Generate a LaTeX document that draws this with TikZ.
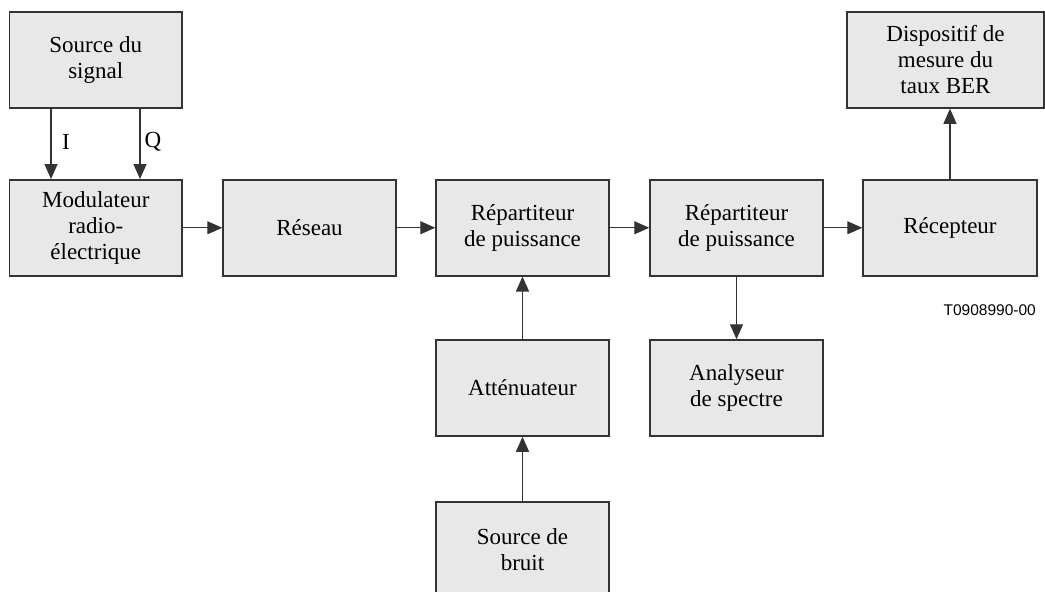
\documentclass[tikz,border=0pt]{standalone}
\usepackage{fontspec}
\setmainfont{Liberation Serif}
\newfontfamily\labelsans{Liberation Sans}
\usetikzlibrary{arrows.meta,calc}
\definecolor{boxfill}{HTML}{E8E8E8}
\definecolor{linecol}{HTML}{333333}
\begin{document}
\begin{tikzpicture}[x=1pt,y=-1pt,
  blk/.style={draw=linecol,line width=1.5pt,fill=boxfill,rectangle,inner sep=0pt,
    minimum height=96pt,align=center,
    font=\fontsize{23}{26}\selectfont},
  arr/.style={draw=linecol,line width=1.3pt,-{Triangle[length=15pt,width=13pt]}},
  lbl/.style={font=\fontsize{23}{26}\selectfont,inner sep=0pt}]
\clip (0,0) rectangle (1045,592);
\fill[white] (0,0) rectangle (1045,592);
\node[blk,minimum width=172.5pt] (src) at (95.75,60) {Source du\\signal};
\node[blk,minimum width=172.5pt] (mod) at (95.75,227.75) {Modulateur\\radio-\\électrique};
\node[blk,minimum width=173pt] (res) at (309.5,227.75) {Réseau};
\node[blk,minimum width=173pt] (rep1) at (522.5,227.75) {Répartiteur\\de puissance};
\node[blk,minimum width=173pt] (rep2) at (736.5,227.75) {Répartiteur\\de puissance};
\node[blk,minimum width=174pt] (rec) at (950,227.75) {Récepteur};
\node[blk,minimum width=197pt] (disp) at (945.5,60) {Dispositif de\\mesure du\\taux BER};
\node[blk,minimum width=173pt] (att) at (522.5,388) {Atténuateur};
\node[blk,minimum width=173pt] (ana) at (736.5,388) {Analyseur\\de spectre};
\node[blk,minimum width=173pt] (noise) at (522.5,550) {Source de\\bruit};
\node[lbl] (lI) at (66,142) {I};
\node[lbl] (lQ) at (153,142) {Q};
\node[font=\labelsans\fontsize{15.5}{18}\selectfont,inner sep=0pt,anchor=base east] (code) at (1036,315) {T0908990-00};
\draw[arr] (src.south -| 51,0) -- (mod.north -| 51,0);
\draw[arr] (src.south -| 140,0) -- (mod.north -| 140,0);
\draw[arr] (mod.east) -- (res.west);
\draw[arr] (res.east) -- (rep1.west);
\draw[arr] (rep1.east) -- (rep2.west);
\draw[arr] (rep2.east) -- (rec.west);
\draw[arr] (rec.north) -- (disp.south -| rec.north);
\draw[arr] (att.north) -- (rep1.south);
\draw[arr] (noise.north) -- (att.south);
\draw[arr] (rep2.south) -- (ana.north);
\end{tikzpicture}
\end{document}
